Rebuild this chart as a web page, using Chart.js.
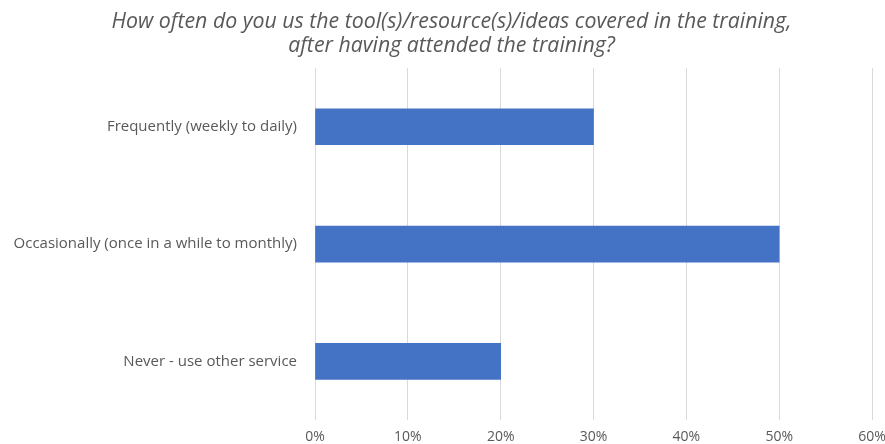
<!DOCTYPE html>
<html>
<head>
<meta charset="utf-8">
<script src="https://cdn.jsdelivr.net/npm/chart.js@4"></script>
<style>
  html, body { margin: 0; padding: 0; background: #fff; overflow: hidden; }
  #wrap { width: 900px; height: 444px; }
</style>
</head>
<body>
<div id="wrap"><canvas id="usageChart"></canvas></div>
<script>
// Datos del gráfico
const categories = [
    'Frequently (weekly to daily)',
    'Occasionally (once in a while to monthly)',
    'Never - use other service'
];
const shareValues = [30, 50, 20];
const titleLines = [
    'How often do you us the tool(s)/resource(s)/ideas covered in the training,',
    'after having attended the training?'
];

document.addEventListener('DOMContentLoaded', function() {
    const ctx = document.getElementById('usageChart').getContext('2d');

    // Desplaza el título un poco a la derecha, como en el original
    const shiftTitle = {
        id: 'shiftTitle',
        afterLayout: function(chart) {
            if (chart.titleBlock) {
                chart.titleBlock.left += 31;
            }
        }
    };

    new Chart(ctx, {
        type: 'bar',
        data: {
            labels: categories,
            datasets: [{
                data: shareValues,
                backgroundColor: '#4472C4',
                borderWidth: 0,
                barThickness: 36
            }]
        },
        options: {
            indexAxis: 'y',
            responsive: true,
            maintainAspectRatio: false,
            animation: false,
            layout: { padding: { left: 0, right: 28, top: 0, bottom: 0 } },
            plugins: {
                legend: { display: false },
                tooltip: { enabled: false },
                title: {
                    display: true,
                    text: titleLines,
                    color: '#595959',
                    font: { family: 'Open Sans', size: 21.3, style: 'italic', weight: 'normal', lineHeight: 1.13 },
                    padding: { top: 10, bottom: 10 }
                }
            },
            scales: {
                x: {
                    min: 0,
                    max: 60,
                    border: { display: false },
                    grid: { color: '#d9d9d9', drawTicks: false },
                    afterFit: function(scale) { scale.height = 24; },
                    ticks: {
                        stepSize: 10,
                        color: '#595959',
                        padding: 9,
                        font: { family: 'Open Sans', size: 14 },
                        callback: function(value) { return value + '%'; }
                    }
                },
                y: {
                    border: { display: false },
                    grid: { display: false },
                    afterFit: function(scale) { scale.width = 315; },
                    ticks: {
                        color: '#595959',
                        padding: 10,
                        font: { family: 'Open Sans', size: 15 }
                    }
                }
            }
        },
        plugins: [shiftTitle]
    });
});
</script>
</body>
</html>
